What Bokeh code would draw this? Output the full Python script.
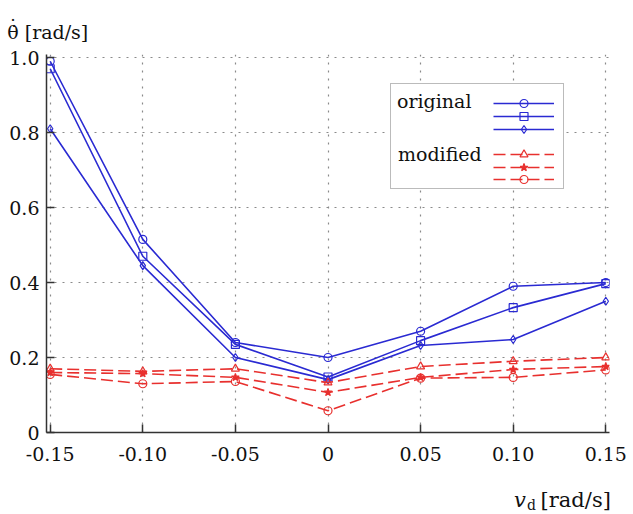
from bokeh.plotting import figure
from bokeh.models import (Range1d, FixedTicker, CustomJSTickFormatter, Legend,
                          LegendItem, Label)
from bokeh.embed import file_html
from bokeh.resources import INLINE

# ---- data ----
vd = [-0.15, -0.10, -0.05, 0.0, 0.05, 0.10, 0.15]
orig_circle = [0.99, 0.515, 0.24, 0.20, 0.27, 0.39, 0.40]
orig_square = [0.97, 0.47, 0.235, 0.148, 0.245, 0.333, 0.397]
orig_diamond = [0.81, 0.445, 0.20, 0.141, 0.232, 0.248, 0.35]
mod_triangle = [0.17, 0.163, 0.17, 0.133, 0.176, 0.19, 0.20]
mod_star = [0.16, 0.157, 0.147, 0.107, 0.147, 0.168, 0.176]
mod_circle = [0.155, 0.13, 0.136, 0.058, 0.145, 0.147, 0.167]

x_ticks = [-0.15, -0.10, -0.05, 0.0, 0.05, 0.10, 0.15]
x_tick_labels = ["-0.15", "-0.10", "-0.05", "0", "0.05", "0.10", "0.15"]
y_ticks = [0.0, 0.2, 0.4, 0.6, 0.8, 1.0]
y_tick_labels = ["0", "0.2", "0.4", "0.6", "0.8", "1.0"]

BLUE = "#2a2ad2"
RED = "#e8302e"
FONT = "DejaVu Serif"
INK = "#111111"

p = figure(width=630, height=514, output_backend="svg", toolbar_location=None,
           x_range=Range1d(-0.152, 0.152), y_range=Range1d(0, 1.008),
           min_border_left=46, min_border_right=19, min_border_top=54,
           min_border_bottom=82)
p.outline_line_color = None
p.background_fill_color = "white"

fmt_code = ("const i = tv.findIndex(t => Math.abs(t - tick) < 1e-9);"
            "return i >= 0 ? tl[i] : '';")
for ax, ticks, labels in ((p.xaxis[0], x_ticks, x_tick_labels),
                          (p.yaxis[0], y_ticks, y_tick_labels)):
    ax.ticker = FixedTicker(ticks=ticks)
    ax.formatter = CustomJSTickFormatter(args=dict(tv=ticks, tl=labels),
                                         code=fmt_code)
    ax.major_label_text_font = FONT
    ax.major_label_text_font_size = "19px"
    ax.major_label_text_color = INK
    ax.axis_line_color = "#333333"
    ax.axis_line_width = 1.5
    ax.major_tick_in = 8
    ax.major_tick_out = 0
    ax.major_tick_line_color = "#333333"
    ax.major_tick_line_width = 1.5
    ax.minor_tick_line_color = None
    ax.major_label_standoff = 7
p.xaxis[0].major_label_standoff = 14

p.xgrid[0].ticker = FixedTicker(ticks=x_ticks)
p.ygrid[0].ticker = FixedTicker(ticks=y_ticks)
for g in (p.xgrid[0], p.ygrid[0]):
    g.grid_line_color = "#8a8a8a"
    g.grid_line_dash = "2 6"
    g.grid_line_width = 1.2

def series(y, color, marker, dash, fill):
    ln = p.line(vd, y, line_color=color, line_width=1.6, line_dash=dash)
    sc = p.scatter(vd, y, marker=marker, size=8, line_color=color,
                   line_width=1.2, fill_color=color if fill else None)
    return [ln, sc]

r_oc = series(orig_circle, BLUE, "circle", "solid", False)
r_os = series(orig_square, BLUE, "square", "solid", False)
r_od = series(orig_diamond, BLUE, "diamond", "solid", False)
r_mt = series(mod_triangle, RED, "triangle", "12 5", False)
r_ms = series(mod_star, RED, "star", "12 5", True)
r_mc = series(mod_circle, RED, "circle", "12 5", False)

blank = p.line([], [], line_alpha=0)

# legend frame
box = Legend(items=[LegendItem(label="", renderers=[blank])],
             location=(344, 243), padding=0, glyph_width=1, glyph_height=1,
             label_standoff=0, label_width=171, label_height=104,
             label_text_font_size="1px", border_line_color="#777777",
             border_line_width=1, background_fill_color="white",
             background_fill_alpha=1.0, margin=0)
p.add_layout(box, "center")

# group captions
for txt, loc in (("original", (350, 318)), ("modified", (351, 265))):
    p.add_layout(Legend(items=[LegendItem(label=txt, renderers=[blank])],
                        location=loc, padding=0, glyph_width=1, glyph_height=1,
                        label_standoff=0, label_height=26,
                        label_text_font=FONT, label_text_font_size="19px",
                        label_text_color=INK, border_line_color=None,
                        background_fill_alpha=0, margin=0), "center")

# one sample row per series
for rends, y0 in ((r_oc, 319), (r_os, 306), (r_od, 293),
                  (r_mt, 268), (r_ms, 255), (r_mc, 243)):
    p.add_layout(Legend(items=[LegendItem(label="", renderers=rends)],
                        location=(447, y0), padding=0, glyph_width=61,
                        glyph_height=20, label_standoff=0, label_width=0,
                        label_height=20, label_text_font_size="1px",
                        border_line_color=None, background_fill_alpha=0,
                        margin=0), "center")

# axis titles (placed in side panels so they are not clipped to the frame)
p.add_layout(Label(x=-0.1732, y=1.0667, text="θ̇ [rad/s]", text_font=FONT,
                   text_font_size="19px", text_color=INK,
                   text_baseline="alphabetic"), "above")
p.add_layout(Label(x=-0.1701, y=1.0853, text="˙", text_font=FONT,
                   text_font_size="19px", text_color=INK, text_align="center",
                   text_baseline="alphabetic"), "above")
p.add_layout(Label(x=0.1005, y=-0.1813, text="v", text_font=FONT,
                   text_font_style="italic", text_font_size="21px",
                   text_color=INK, text_baseline="alphabetic"), "right")
p.add_layout(Label(x=0.1075, y=-0.192, text="d", text_font=FONT,
                   text_font_size="14px", text_color=INK,
                   text_baseline="alphabetic"), "right")
p.add_layout(Label(x=0.1148, y=-0.1813, text="[rad/s]", text_font=FONT,
                   text_font_size="21px", text_color=INK,
                   text_baseline="alphabetic"), "below")

open("out.html", "w").write(file_html(p, INLINE))
